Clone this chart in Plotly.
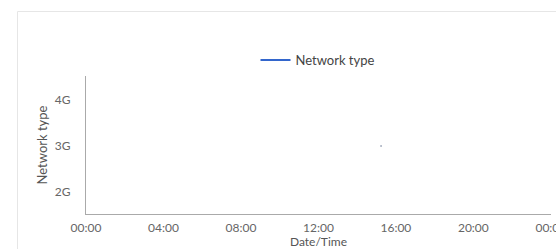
import plotly.graph_objects as go

# Data
times = ["2024-01-01 15:14"]
network = ["3G"]
categories = ["2G", "3G", "4G"]
x_range = ["2024-01-01 00:00", "2024-01-02 00:00:30"]

fig = go.Figure()
# Series line (single point, so only the legend line shows)
fig.add_trace(go.Scatter(
    x=times, y=network, mode="lines", name="Network type",
    line=dict(color="#3366cc", width=2),
    showlegend=True,
))
# Tiny marker for the single sample
fig.add_trace(go.Scatter(
    x=times, y=network, mode="markers", name="Network type",
    marker=dict(size=2, color="#a8b0c0"),
    showlegend=False, hoverinfo="skip",
))

W, H = 556, 249
L, R, T, B = 86, 5, 76, 35
pw, ph = W - L - R, H - T - B

def px_x(x):
    return (x - L) / pw

def px_y(y):
    return (H - B - y) / ph

fig.update_layout(
    width=W, height=H,
    margin=dict(l=L, r=R, t=T, b=B, autoexpand=False),
    paper_bgcolor="white", plot_bgcolor="white",
    font=dict(family="Lato", size=12, color="#555555"),
    showlegend=True,
    legend=dict(orientation="h", x=px_x(318), xanchor="center",
                y=px_y(60), yanchor="middle",
                font=dict(size=13, color="#444444"),
                bgcolor="rgba(0,0,0,0)"),
    xaxis=dict(type="date", range=x_range, tickformat="%H:%M", dtick=4 * 3600 * 1000,
               tick0="2024-01-01 00:00", automargin=False, ticklabeloverflow="allow",
               ticklabelstandoff=3,
               showgrid=False, zeroline=False, showline=True, linecolor="#aaaaaa", linewidth=1,
               ticks="", ticklen=0,
               title=dict(text="Date/Time", standoff=0, font=dict(size=12, color="#555555")),
               tickfont=dict(size=12, color="#666666")),
    yaxis=dict(type="category", categoryorder="array", categoryarray=categories,
               range=[-0.48, 2.52], showgrid=False, zeroline=False, showline=True,
               automargin=False, ticklabelstandoff=12,
               linecolor="#aaaaaa", linewidth=1, ticks="",
               title=dict(text="Network type", standoff=4, font=dict(size=13, color="#555555")),
               tickfont=dict(size=12, color="#666666")),
    shapes=[
        dict(type="line", xref="paper", yref="paper", x0=px_x(17.5), x1=px_x(600),
             y0=px_y(11.5), y1=px_y(11.5), line=dict(color="#e6e6e6", width=1)),
        dict(type="line", xref="paper", yref="paper", x0=px_x(17.5), x1=px_x(17.5),
             y0=px_y(11.5), y1=px_y(260), line=dict(color="#e6e6e6", width=1)),
    ],
)

fig.write_html("out.html", config={"displayModeBar": False},
               post_script="document.body.style.margin='0';document.body.style.overflow='hidden';")
